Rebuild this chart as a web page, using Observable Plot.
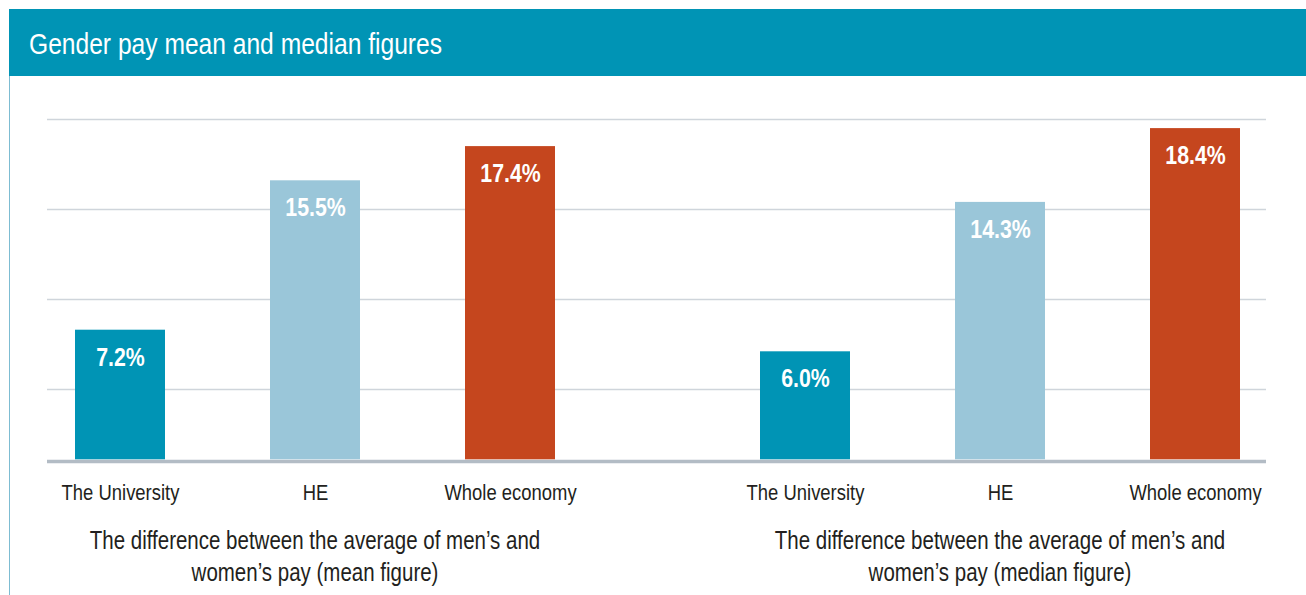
<!DOCTYPE html>
<html><head><meta charset="utf-8">
<script src="https://cdn.jsdelivr.net/npm/d3@7"></script>
<script src="https://cdn.jsdelivr.net/npm/@observablehq/plot@0.6"></script>
<style>
body{margin:0;background:#fff;width:1306px;height:595px;overflow:hidden;position:relative;
 font-family:"Liberation Sans",Arial,sans-serif;}
#header{position:absolute;left:9px;top:9px;width:1297px;height:64px;padding-top:3px;background:#0094b5;color:#fff;
 font-size:30px;line-height:64px;box-sizing:content-box;}
#header span{position:absolute;left:20px;transform:scaleX(0.82);transform-origin:0 50%;white-space:nowrap;}
#border{position:absolute;left:9px;top:76px;width:1px;height:519px;background:#7dbcd2;}
#grid,#bars{position:absolute;left:0;top:76px;}
</style></head><body>
<div id="header"><span>Gender pay mean and median figures</span></div>
<div id="border"></div>
<div id="grid"></div><div id="bars"></div>
<script>
const groups = ["mean", "median"];
const categories = ["The University", "HE", "Whole economy"];
const meanValues = [7.2, 15.5, 17.4];
const medianValues = [6.0, 14.3, 18.4];
const captions = [
  "The difference between the average of men’s and\nwomen’s pay (mean figure)",
  "The difference between the average of men’s and\nwomen’s pay (median figure)"
];
const gridTicks = [3.9, 8.9, 13.9, 18.9];
const colors = ["#0094b5", "#9ac6d9", "#c5461e"];

const FONT = '"Liberation Sans",Arial,sans-serif';
const NARROW = 0.82; // emulate a condensed face
const data = groups.flatMap((g, gi) => categories.map((c, ci) => ({
  group: g, category: c, value: (gi === 0 ? meanValues : medianValues)[ci]
})));
const captionData = groups.map((g, i) => ({group: g, caption: captions[i]}));

const common = {
  width: 1306, height: 519,
  marginLeft: 47, marginRight: 40, marginTop: 23.3, marginBottom: 135.7,
  y: {domain: [0, 20], axis: null}
};

function condense(svg) {
  svg.querySelectorAll("text").forEach(t => {
    const tr = t.getAttribute("transform") || "";
    t.setAttribute("transform", (tr + ` scale(${NARROW},1)`).trim());
  });
  return svg;
}

document.getElementById("grid").append(Plot.plot({
  ...common,
  style: {background: "transparent", fontFamily: FONT},
  marks: [
    Plot.ruleY(gridTicks, {stroke: "#cfd5db", strokeWidth: 1.5}),
    Plot.ruleY([0], {stroke: "#b3bcc5", strokeWidth: 3.4, dy: 1.7})
  ]
}));

document.getElementById("bars").append(condense(Plot.plot({
  ...common,
  style: {background: "transparent", fontFamily: FONT, overflow: "visible"},
  fx: {domain: groups, paddingInner: 0.2225, paddingOuter: 0, axis: null, label: null},
  x: {domain: categories, paddingInner: 0.5396, paddingOuter: 0.133, label: null, axis: null},
  color: {domain: categories, range: colors},
  marks: [
    Plot.barY(data, {fx: "group", x: "category", y: "value", fill: "category"}),
    Plot.text(data, {fx: "group", x: "category", y: "value", text: d => d.value.toFixed(1) + "%",
      dy: 27, fill: "white", fontSize: 26, fontWeight: "bold"}),
    Plot.axisX({tickSize: 0, tickPadding: 24, fontSize: 22.5, fill: "#231f20", label: null}),
    Plot.text(captionData, {fx: "group", text: "caption", frameAnchor: "bottom", lineAnchor: "top",
      dy: 66, fontSize: 25, lineHeight: 1.28, fill: "#231f20"})
  ]
})));
</script>
</body></html>
